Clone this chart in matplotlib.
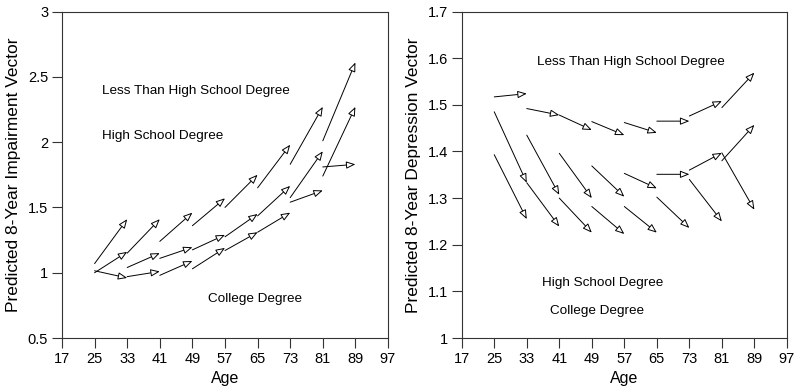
import matplotlib
matplotlib.use("Agg")
import matplotlib.pyplot as plt

plt.rcParams['font.family'] = ['Liberation Sans', 'DejaVu Sans']

# start ages of each 8-year vector
ages = [25, 33, 41, 49, 57, 65, 73, 81]
step = 8

# Impairment panel
imp_lths_start = [1.07, 1.15, 1.24, 1.36, 1.50, 1.65, 1.83, 2.01]
imp_lths_end = [1.41, 1.41, 1.46, 1.57, 1.75, 1.98, 2.27, 2.61]
imp_hs_start = [1.00, 1.04, 1.11, 1.175, 1.275, 1.435, 1.575, 1.74]
imp_hs_end = [1.16, 1.15, 1.195, 1.29, 1.45, 1.665, 1.93, 2.27]
imp_col_start = [1.015, 0.97, 0.98, 1.03, 1.17, 1.31, 1.54, 1.81]
imp_col_end = [0.96, 1.01, 1.09, 1.19, 1.31, 1.46, 1.63, 1.83]

# Depression panel
dep_lths_start = [1.517, 1.492, 1.478, 1.464, 1.462, 1.465, 1.476, 1.494]
dep_lths_end = [1.524, 1.478, 1.446, 1.435, 1.440, 1.465, 1.508, 1.569]
dep_hs_start = [1.485, 1.435, 1.396, 1.369, 1.353, 1.351, 1.360, 1.380]
dep_hs_end = [1.333, 1.307, 1.300, 1.303, 1.321, 1.351, 1.397, 1.457]
dep_col_start = [1.393, 1.333, 1.300, 1.282, 1.282, 1.302, 1.340, 1.397]
dep_col_end = [1.255, 1.239, 1.226, 1.223, 1.226, 1.236, 1.250, 1.275]

xticks = [17, 25, 33, 41, 49, 57, 65, 73, 81, 89, 97]


def draw_vectors(ax, starts, ends):
    for a, y0, y1 in zip(ages, starts, ends):
        ax.annotate("", xy=(a + step, y1), xytext=(a, y0),
                    arrowprops=dict(arrowstyle="-|>,head_length=0.55,head_width=0.22",
                                    mutation_scale=10, fc="white", ec="black",
                                    lw=0.7, shrinkA=0, shrinkB=0))


def style_axes(ax, ylim, yticks, ylabels, ylabel):
    ax.set_xlim(17, 97)
    ax.set_ylim(*ylim)
    ax.set_xticks(xticks)
    ax.set_yticks(yticks)
    ax.set_yticklabels(ylabels)
    ax.tick_params(direction="out", length=7, width=0.8, labelsize=10.5,
                   color="#333333", pad=3)
    for s in ax.spines.values():
        s.set_linewidth(0.8)
        s.set_color("#333333")
    ax.set_xlabel("Age", fontsize=11.5, labelpad=4)
    ax.set_ylabel(ylabel, fontsize=12.5, labelpad=5)


fig = plt.figure(figsize=(7.98, 3.91), dpi=100)
ax1 = fig.add_axes([0.0777, 0.1355, 0.4085, 0.835])
ax2 = fig.add_axes([0.5786, 0.1355, 0.4075, 0.835])

draw_vectors(ax1, imp_lths_start, imp_lths_end)
draw_vectors(ax1, imp_hs_start, imp_hs_end)
draw_vectors(ax1, imp_col_start, imp_col_end)
style_axes(ax1, (0.5, 3.0), [0.5, 1, 1.5, 2, 2.5, 3],
           ["0.5", "1", "1.5", "2", "2.5", "3"],
           "Predicted 8-Year Impairment Vector")
ax1.text(26.9, 2.395, "Less Than High School Degree", fontsize=9.7, va="center")
ax1.text(26.9, 2.045, "High School Degree", fontsize=9.7, va="center")
ax1.text(52.9, 0.797, "College Degree", fontsize=9.7, va="center")

draw_vectors(ax2, dep_lths_start, dep_lths_end)
draw_vectors(ax2, dep_hs_start, dep_hs_end)
draw_vectors(ax2, dep_col_start, dep_col_end)
style_axes(ax2, (1.0, 1.7), [1, 1.1, 1.2, 1.3, 1.4, 1.5, 1.6, 1.7],
           ["1", "1.1", "1.2", "1.3", "1.4", "1.5", "1.6", "1.7"],
           "Predicted 8-Year Depression Vector")
ax2.text(35.6, 1.592, "Less Than High School Degree", fontsize=9.7, va="center")
ax2.text(36.8, 1.119, "High School Degree", fontsize=9.7, va="center")
ax2.text(38.6, 1.057, "College Degree", fontsize=9.7, va="center")

fig.savefig("out.png", dpi=100)
